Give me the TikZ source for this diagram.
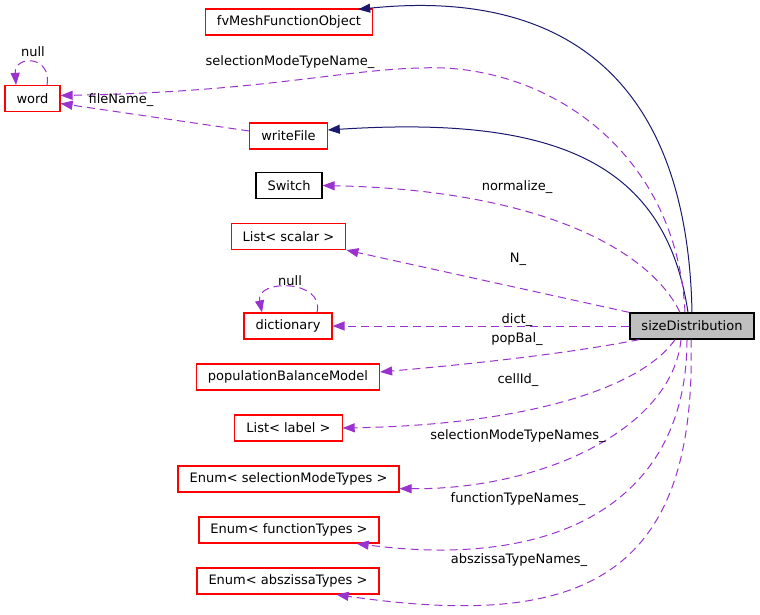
\documentclass[tikz,border=0pt]{standalone}
\usepackage{fontspec}
\setmainfont{DejaVu Sans}
\usetikzlibrary{arrows.meta,calc}
\definecolor{inherit}{HTML}{191970}
\definecolor{usage}{HTML}{9A32CD}
\definecolor{trunc}{HTML}{FF0000}
\definecolor{current}{HTML}{BFBFBF}

\begin{document}
\begin{tikzpicture}[x=1pt,y=-1pt,font=\fontsize{13}{15}\selectfont,
  cls/.style={draw=trunc,line width=1.2pt,minimum height=26pt,inner xsep=11.5pt,inner ysep=0pt},
  plain/.style={cls,draw=black},
  inh/.style={inherit,line width=1pt,-{Triangle[length=12pt,width=9pt]}},
  use/.style={usage,line width=1pt,dash pattern=on 8pt off 5pt,-{Triangle[length=12pt,width=9pt]}},
  lbl/.style={inner sep=0pt}]
  \useasboundingbox (0,0) rectangle (760,615);

  % classes
  \node[cls] (fv) at (289,22) {fvMeshFunctionObject};
  \node[cls] (wd) at (32.5,98.5) {word};
  \node[cls] (wf) at (288.5,136) {writeFile};
  \node[plain] (sw) at (289,185.5) {Switch};
  \node[cls] (ls) at (288.5,236.5) {List< scalar >};
  \node[cls] (dc) at (288,326) {dictionary};
  \node[plain,fill=current] (sd) at (692,326) {sizeDistribution};
  \node[cls] (pb) at (288,377) {populationBalanceModel};
  \node[cls] (ll) at (288.5,428) {List< label >};
  \node[cls] (es) at (288.5,479) {Enum< selectionModeTypes >};
  \node[cls] (ef) at (289,530) {Enum< functionTypes >};
  \node[cls] (ea) at (288,581) {Enum< abszissaTypes >};

  % base classes
  \draw[inh] (sd.north) .. controls (687,60) and (545,-10) .. ($(fv.north east)+(-15,1)$);
  \draw[inh] ($(sd.north)+(-4,0)$) .. controls (666,165) and (560,115) .. ($(wf.east)+(0,-6)$);

  % members of word and dictionary
  \draw[use] ($(sd.north)+(-7,0)$) .. controls (677,150) and (545,62) .. (420,68)
    .. controls (340,70) and (260,92) .. ($(wd.east)+(0,-3)$);
  \draw[use] ($(wf.west)+(0,-5)$) -- ($(wd.east)+(0,5)$);
  \draw[use] ($(wd.north)+(14.5,0)$) .. controls (52,55) and (14,55) .. ($(wd.north)+(-16.5,0)$);
  \draw[use] ($(dc.north)+(29,0)$) .. controls (325,279) and (255,279) .. ($(dc.north)+(-26,0)$);

  % members of sizeDistribution
  \draw[use] ($(sd.north)+(-12,0)$) .. controls (650,250) and (540,190) .. (sw.east);
  \draw[use] (sd.north west) -- (ls.south east);
  \draw[use] (sd.west) -- (dc.east);
  \draw[use] ($(sd.south west)+(10,0)$) .. controls (560,355) and (460,365) .. ($(pb.east)+(0,-5)$);
  \draw[use] ($(sd.south)+(-17,0)$) .. controls (640,390) and (520,425) .. (ll.east);
  \draw[use] ($(sd.south)+(-11,0)$) .. controls (672,430) and (540,490) .. ($(es.south east)+(0,-4)$);
  \draw[use] ($(sd.south)+(-5,0)$) .. controls (687,500) and (560,570) .. ($(ef.south east)+(-23,0)$);
  \draw[use] ($(sd.south)+(-1,0)$) .. controls (697,580) and (580,630) .. ($(ea.south east)+(-43,0)$);

  % edge labels
  \node[lbl] (t-smtn) at (290,62) {selectionModeTypeName\_};
  \node[lbl] (t-file) at (121,100) {fileName\_};
  \node[lbl] (t-null1) at (33,52) {null};
  \node[lbl] (t-null2) at (290,281) {null};
  \node[lbl] (t-norm) at (517,187) {normalize\_};
  \node[lbl] (t-n) at (518,259) {N\_};
  \node[lbl] (t-dict) at (517,320) {dict\_};
  \node[lbl] (t-pop) at (517,339) {popBal\_};
  \node[lbl] (t-cell) at (518,380) {cellId\_};
  \node[lbl] (t-smtns) at (518,436) {selectionModeTypeNames\_};
  \node[lbl] (t-func) at (518,499) {functionTypeNames\_};
  \node[lbl] (t-absz) at (519,560) {abszissaTypeNames\_};
\end{tikzpicture}
\end{document}
